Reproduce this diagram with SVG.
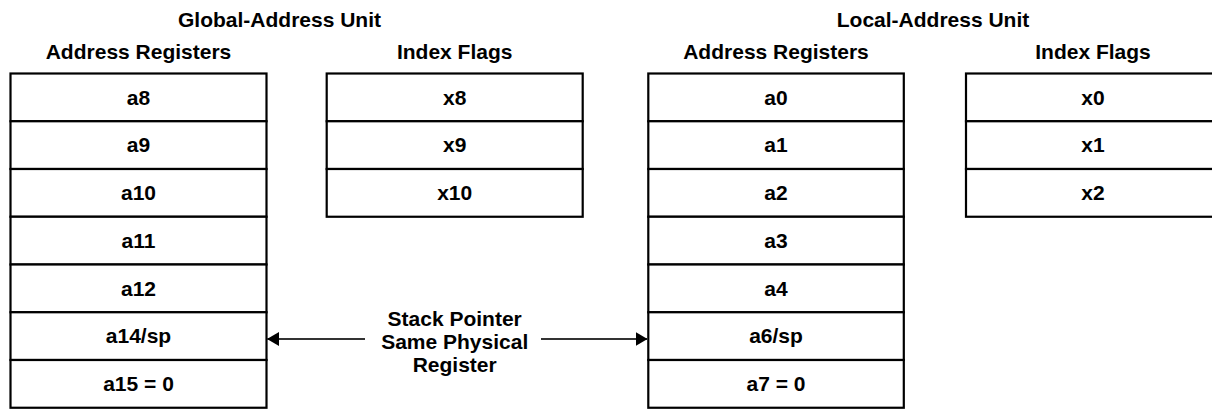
<svg xmlns="http://www.w3.org/2000/svg" width="1212" height="409" viewBox="0 0 1212 409">
<style>
text{font-family:"Liberation Sans",Arial,Helvetica,sans-serif;font-weight:bold;font-size:21px;fill:#000;text-anchor:middle}
.cell{fill:#fff;stroke:#000;stroke-width:2.2}
.conn{stroke:#333;stroke-width:2;fill:none}
</style>
<defs>
<marker id="ah" markerWidth="12" markerHeight="14" refX="12" refY="7" orient="auto" markerUnits="userSpaceOnUse">
<path d="M0,0 L12,7 L0,14 Z" fill="#000"/>
</marker>
</defs>
<rect width="1212" height="409" fill="#fff"/>
<g id="headers">
<text x="279.5" y="27">Global-Address Unit</text>
<text x="933" y="27">Local-Address Unit</text>
<text x="138.5" y="59">Address Registers</text>
<text x="454.7" y="59">Index Flags</text>
<text x="776" y="59">Address Registers</text>
<text x="1093" y="59">Index Flags</text>
</g>
<g id="global-address-registers">
<g id="a8"><rect class="cell" x="10.5" y="73.5" width="256" height="47.75"/><text x="138.5" y="104.5">a8</text></g>
<g id="a9"><rect class="cell" x="10.5" y="121.25" width="256" height="47.75"/><text x="138.5" y="152.2">a9</text></g>
<g id="a10"><rect class="cell" x="10.5" y="169" width="256" height="47.75"/><text x="138.5" y="200">a10</text></g>
<g id="a11"><rect class="cell" x="10.5" y="216.75" width="256" height="47.75"/><text x="138.5" y="247.7">a11</text></g>
<g id="a12"><rect class="cell" x="10.5" y="264.5" width="256" height="47.75"/><text x="138.5" y="295.5">a12</text></g>
<g id="a14sp"><rect class="cell" x="10.5" y="312.25" width="256" height="47.75"/><text x="138.5" y="343.2">a14/sp</text></g>
<g id="a15"><rect class="cell" x="10.5" y="360" width="256" height="47.75"/><text x="138.5" y="391">a15 = 0</text></g>
</g>
<g id="global-index-flags">
<g id="x8"><rect class="cell" x="326.7" y="73.5" width="256" height="47.75"/><text x="454.7" y="104.5">x8</text></g>
<g id="x9"><rect class="cell" x="326.7" y="121.25" width="256" height="47.75"/><text x="454.7" y="152.2">x9</text></g>
<g id="x10"><rect class="cell" x="326.7" y="169" width="256" height="47.75"/><text x="454.7" y="200">x10</text></g>
</g>
<g id="local-address-registers">
<g id="a0"><rect class="cell" x="648.3" y="73.5" width="255.5" height="47.75"/><text x="776" y="104.5">a0</text></g>
<g id="a1"><rect class="cell" x="648.3" y="121.25" width="255.5" height="47.75"/><text x="776" y="152.2">a1</text></g>
<g id="a2"><rect class="cell" x="648.3" y="169" width="255.5" height="47.75"/><text x="776" y="200">a2</text></g>
<g id="a3"><rect class="cell" x="648.3" y="216.75" width="255.5" height="47.75"/><text x="776" y="247.7">a3</text></g>
<g id="a4"><rect class="cell" x="648.3" y="264.5" width="255.5" height="47.75"/><text x="776" y="295.5">a4</text></g>
<g id="a6sp"><rect class="cell" x="648.3" y="312.25" width="255.5" height="47.75"/><text x="776" y="343.2">a6/sp</text></g>
<g id="a7"><rect class="cell" x="648.3" y="360" width="255.5" height="47.75"/><text x="776" y="391">a7 = 0</text></g>
</g>
<g id="local-index-flags">
<g id="x0"><rect class="cell" x="966" y="73.5" width="256" height="47.75"/><text x="1093" y="104.5">x0</text></g>
<g id="x1"><rect class="cell" x="966" y="121.25" width="256" height="47.75"/><text x="1093" y="152.2">x1</text></g>
<g id="x2"><rect class="cell" x="966" y="169" width="256" height="47.75"/><text x="1093" y="200">x2</text></g>
</g>
<g id="stack-pointer-label">
<text x="454.7" y="326">Stack Pointer</text>
<text x="454.7" y="349">Same Physical</text>
<text x="454.7" y="372">Register</text>
</g>
<g id="connectors">
<line class="conn" x1="365" y1="339" x2="267" y2="339" marker-end="url(#ah)"/>
<line class="conn" x1="541" y1="339" x2="647.5" y2="339" marker-end="url(#ah)"/>
</g>
</svg>
